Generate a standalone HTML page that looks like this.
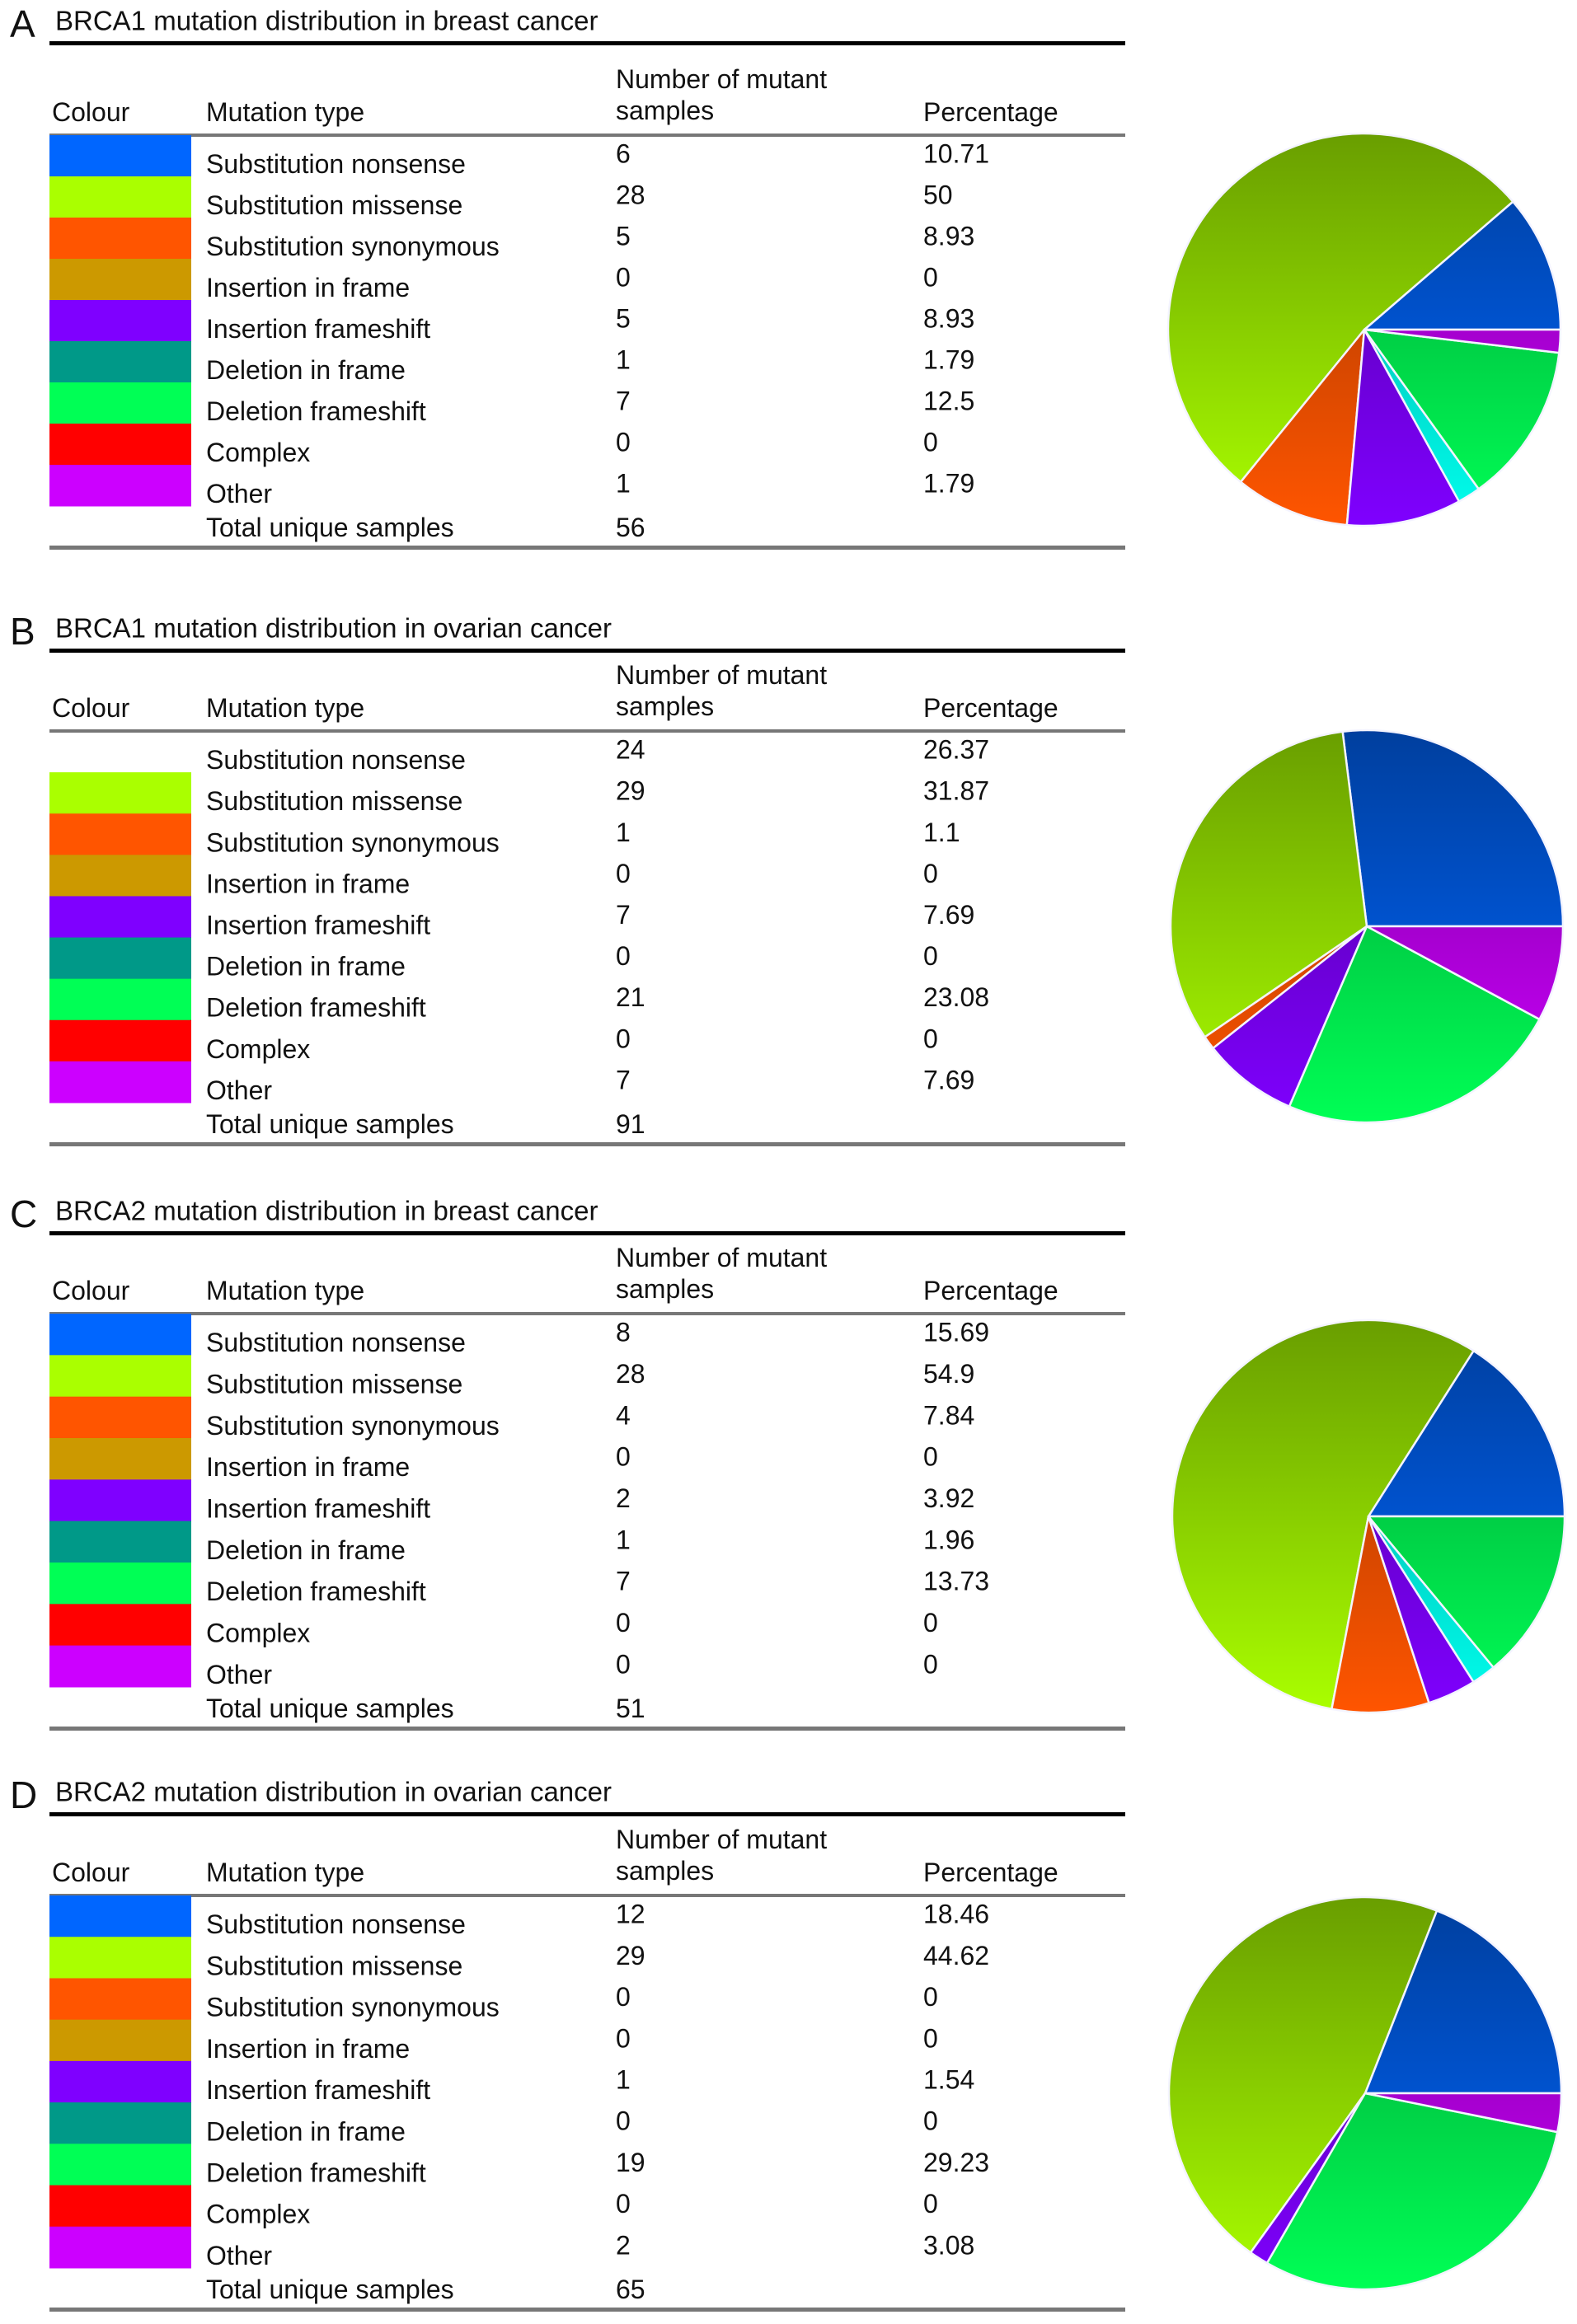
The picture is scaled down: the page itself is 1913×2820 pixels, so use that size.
<!DOCTYPE html>
<html><head><meta charset="utf-8">
<style>
html,body{margin:0;padding:0;background:#fff;}
svg{display:block;font-family:"Liberation Sans",Arial,sans-serif;}
</style></head>
<body>
<svg id="fig" width="1913" height="2820" viewBox="0 0 1913 2820" xmlns="http://www.w3.org/2000/svg"></svg>
<script>
const categories = ["Substitution nonsense","Substitution missense","Substitution synonymous","Insertion in frame","Insertion frameshift","Deletion in frame","Deletion frameshift","Complex","Other"];
const swatchColors = ["#0066ff","#aaff00","#ff5500","#cc9900","#7f00ff","#009988","#00ff55","#ff0000","#cc00ff"];
const pieColors = ["#0066ff","#aaff00","#ff5500","#cc9900","#7f00ff","#00ffee","#00ff55","#ff0000","#cc00ff"];
const titles = ["BRCA1 mutation distribution in breast cancer","BRCA1 mutation distribution in ovarian cancer","BRCA2 mutation distribution in breast cancer","BRCA2 mutation distribution in ovarian cancer"];
const letters = ["A","B","C","D"];
const countsA = [6,28,5,0,5,1,7,0,1];
const countsB = [24,29,1,0,7,0,21,0,7];
const countsC = [8,28,4,0,2,1,7,0,0];
const countsD = [12,29,0,0,1,0,19,0,2];
const pctA = ["10.71","50","8.93","0","8.93","1.79","12.5","0","1.79"];
const pctB = ["26.37","31.87","1.1","0","7.69","0","23.08","0","7.69"];
const pctC = ["15.69","54.9","7.84","0","3.92","1.96","13.73","0","0"];
const pctD = ["18.46","44.62","0","0","1.54","0","29.23","0","3.08"];
const totals = [56,91,51,65];

const counts = [countsA,countsB,countsC,countsD];
const pcts = [pctA,pctB,pctC,pctD];
const layout = [
  {ty:25, gray:139, bottom:639, cx:1655, cy:400, noFirstSwatch:false},
  {ty:762, gray:125, bottom:626, cx:1658, cy:1124, noFirstSwatch:true},
  {ty:1469, gray:125, bottom:628, cx:1660, cy:1840, noFirstSwatch:false},
  {ty:2174, gray:126, bottom:628, cx:1656, cy:2540, noFirstSwatch:false}
];
const R = 238;
const NS = "http://www.w3.org/2000/svg";
const svg = document.getElementById('fig');
const defs = document.createElementNS(NS,'defs');
svg.appendChild(defs);

function mk(tag, attrs, parent){
  const e = document.createElementNS(NS, tag);
  for (const k in attrs) e.setAttribute(k, attrs[k]);
  (parent||svg).appendChild(e);
  return e;
}
function txt(x,y,s,size,parent,name){
  const t = mk('text',{x:x,y:y,'font-size':size,fill:'#111','dominant-baseline':'central'},parent);
  t.textContent = s;
  
  
  return t;
}
function darken(hex,f){
  const n = parseInt(hex.slice(1),16);
  const r=Math.round(((n>>16)&255)*f), g=Math.round(((n>>8)&255)*f), b=Math.round((n&255)*f);
  return 'rgb('+r+','+g+','+b+')';
}

for (let p=0;p<4;p++){
  const L = layout[p];
  const g = mk('g',{});
  
  
  txt(12, L.ty+4, letters[p], 46, g, 'panel-letter');
  txt(67, L.ty, titles[p], 33, g, 'panel-title');
  const top = mk('rect',{x:60,y:L.ty+25,width:1305,height:5,fill:'#000'},g);
  
  
  const gy = L.ty + L.gray;
  txt(63, gy-28, 'Colour', 32, g, 'colour-header');
  txt(250, gy-28, 'Mutation type', 32, g, 'mutation-type-header');
  txt(747, gy-68, 'Number of mutant', 32, g, 'number-header-line1');
  txt(747, gy-30, 'samples', 32, g, 'number-header-line2');
  txt(1120, gy-28, 'Percentage', 32, g, 'percentage-header');
  const gl = mk('rect',{x:60,y:gy-2,width:1305,height:4,fill:'#777'},g);
  
  
  const rh = (L.bottom - L.gray - 50) / 9;
  for (let i=0;i<9;i++){
    const rt = gy + i*rh;
    if (!(L.noFirstSwatch && i===0)){
      const sw = mk('rect',{x:60,y:rt,width:172,height:rh+0.5,fill:swatchColors[i]},g);
      
      
    }
    txt(250, rt+rh*0.7, categories[i], 32, g, 'mutation-type-label');
    txt(747, rt+rh*0.45, String(counts[p][i]), 32, g, 'mutant-count');
    txt(1120, rt+rh*0.45, pcts[p][i], 32, g, 'percentage-value');
  }
  const tr = gy + 9*rh;
  txt(250, tr+26, 'Total unique samples', 32, g, 'total-label');
  txt(747, tr+26, String(totals[p]), 32, g, 'total-value');
  const bl = mk('rect',{x:60,y:L.ty+L.bottom-2,width:1305,height:5,fill:'#777'},g);
  
  

  const pg = mk('g',{},g);
  
  
  const sum = counts[p].reduce((a,b)=>a+b,0);
  let ang = 0;
  for (let i=0;i<9;i++){
    const v = counts[p][i];
    if (v<=0) continue;
    const gid = 'g'+p+'_'+i;
    const lg = mk('linearGradient',{id:gid,gradientUnits:'userSpaceOnUse',x1:0,y1:L.cy-R,x2:0,y2:L.cy+R},defs);
    mk('stop',{offset:'0','stop-color':darken(pieColors[i],0.62)},lg);
    mk('stop',{offset:'1','stop-color':pieColors[i]},lg);
    const a0 = ang, a1 = ang + v/sum*2*Math.PI;
    ang = a1;
    const x0 = L.cx + R*Math.cos(a0), y0 = L.cy - R*Math.sin(a0);
    const x1 = L.cx + R*Math.cos(a1), y1 = L.cy - R*Math.sin(a1);
    const large = (a1-a0) > Math.PI ? 1 : 0;
    const d = 'M'+L.cx+','+L.cy+' L'+x0.toFixed(2)+','+y0.toFixed(2)+' A'+R+','+R+' 0 '+large+' 0 '+x1.toFixed(2)+','+y1.toFixed(2)+' Z';
    const sl = mk('path',{d:d,fill:'url(#'+gid+')',stroke:'#f4f4ff','stroke-width':2.5,'stroke-linejoin':'round'},pg);
    
    
  }
}
</script>
</body></html>
